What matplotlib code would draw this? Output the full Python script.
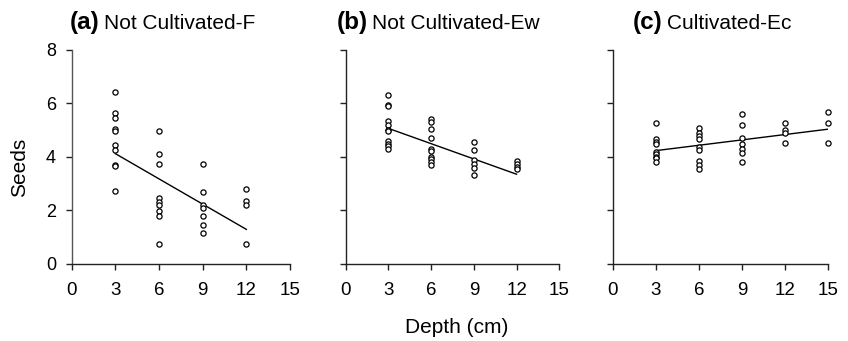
import matplotlib
matplotlib.use("Agg")
import matplotlib.pyplot as plt
import numpy as np

plt.rcParams['font.family'] = ['Liberation Sans', 'DejaVu Sans']

# seed counts per core depth
depth_a = [3]*10 + [6]*9 + [9]*7 + [12]*4
seeds_a = [6.40, 5.62, 5.45, 5.03, 4.98, 4.45, 4.27, 3.69, 3.66, 2.73,
           4.98, 4.09, 3.74, 2.45, 2.32, 2.21, 1.96, 1.79, 0.73,
           3.74, 2.67, 2.22, 2.10, 1.79, 1.44, 1.14,
           2.81, 2.34, 2.21, 0.73]

depth_b = [3]*11 + [6]*10 + [9]*6 + [12]*4
seeds_b = [6.29, 5.94, 5.91, 5.34, 5.17, 4.99, 4.96, 4.60, 4.48, 4.40, 4.30,
           5.40, 5.29, 5.04, 4.70, 4.30, 4.22, 4.00, 3.90, 3.79, 3.68,
           4.57, 4.27, 3.88, 3.75, 3.58, 3.33,
           3.83, 3.73, 3.63, 3.55]

depth_c = [3]*9 + [6]*9 + [9]*7 + [12]*4 + [15]*3
seeds_c = [5.25, 4.65, 4.56, 4.46, 4.19, 4.09, 4.00, 3.94, 3.80,
           5.06, 4.90, 4.78, 4.65, 4.38, 4.25, 3.84, 3.71, 3.56,
           5.60, 5.18, 4.70, 4.46, 4.30, 4.15, 3.80,
           5.25, 5.00, 4.90, 4.53,
           5.66, 5.25, 4.53]

# fitted lines: (intercept, slope, x range)
fit_a = (5.06, -0.314, (3, 12))
fit_b = (5.63, -0.190, (3, 12))
fit_c = (4.03, 0.0667, (3, 15))

tags = ['(a)', '(b)', '(c)']
names = ['Not Cultivated-F', 'Not Cultivated-Ew', 'Cultivated-Ec']
xticks = [0, 3, 6, 9, 12, 15]
yticks = [0, 2, 4, 6, 8]

W, H = 848, 341
fig = plt.figure(figsize=(W/100, H/100), dpi=100)

lefts = [71.7, 345.7, 612.7]
widths = [218.3, 213.6, 215.3]
bottom, top = 264, 49.6
title_x = [70, 337, 633]

data = [(depth_a, seeds_a, fit_a), (depth_b, seeds_b, fit_b), (depth_c, seeds_c, fit_c)]

axes = []
for i, (xs, ys, fit) in enumerate(data):
    ax = fig.add_axes([lefts[i]/W, 1 - bottom/H, widths[i]/W, (bottom - top)/H])
    ax.scatter(xs, ys, s=14, facecolors='white', edgecolors='black',
               linewidths=0.9, zorder=3, clip_on=False)
    b0, b1, (x0, x1) = fit
    lx = np.array([x0, x1])
    ax.plot(lx, b0 + b1*lx, color='black', lw=1.0, zorder=2)
    ax.set_xlim(0, 15)
    ax.set_ylim(0, 8)
    ax.set_xticks(xticks)
    ax.set_yticks(yticks)
    for s in ['top', 'right']:
        ax.spines[s].set_visible(False)
    for s in ['left', 'bottom']:
        ax.spines[s].set_linewidth(1.0)
        ax.spines[s].set_color('#222222')
    ax.tick_params(axis='x', direction='out', length=4, width=1.0, color='#222222',
                   labelsize=13.5, pad=9)
    ax.tick_params(axis='y', direction='out', length=4.3, width=1.0, color='#222222',
                   labelsize=13, pad=7)
    if i > 0:
        ax.set_yticklabels([])
    axes.append(ax)

axes[0].spines['left'].set_color('#555555')

fig.text(20/W, 1 - 167/H, 'Seeds', rotation=90, ha='center', va='center', fontsize=15)
fig.text(457/W, 1 - 333/H, 'Depth (cm)', ha='center', va='baseline', fontsize=15)

fig.canvas.draw()
renderer = fig.canvas.get_renderer()
for i in range(3):
    t = fig.text(title_x[i]/W, 1 - 29.3/H, tags[i], fontsize=17.5, fontweight='bold',
                 ha='left', va='baseline')
    bb = t.get_window_extent(renderer)
    fig.text((bb.x1 + 4)/W, 1 - 29.3/H, names[i], fontsize=15, ha='left', va='baseline')

fig.savefig('out.png', dpi=100)
